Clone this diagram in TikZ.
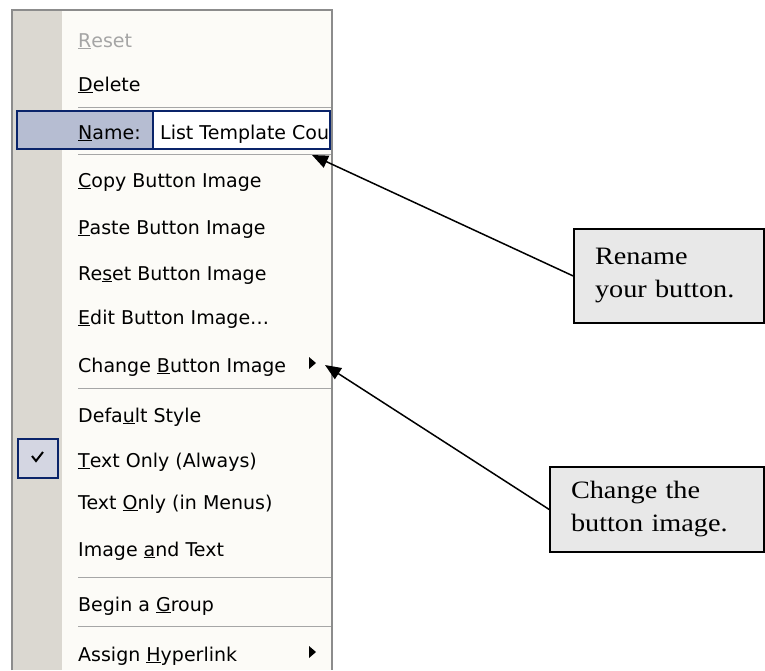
\documentclass[tikz,border=0pt]{standalone}
\usepackage{fontspec}
\setmainfont{Liberation Serif}[FakeStretch=1.13]
\newfontfamily\menufont{DejaVu Sans}
\usetikzlibrary{arrows.meta}

\definecolor{menubg}{RGB}{252,251,247}
\definecolor{stripgray}{RGB}{219,216,209}
\definecolor{framegray}{RGB}{140,140,140}
\definecolor{sepgray}{RGB}{166,166,166}
\definecolor{hlblue}{RGB}{182,189,210}
\definecolor{darkblue}{RGB}{10,36,106}
\definecolor{checkfill}{RGB}{212,214,226}
\definecolor{offgray}{RGB}{165,165,165}
\definecolor{notefill}{RGB}{232,232,232}

\newcommand{\acc}[1]{\underline{#1}}

\tikzset{
    item/.style={anchor=base west, inner sep=0pt, font=\menufont\fontsize{19}{23}\selectfont},
    sepline/.style={sepgray, line width=1pt},
    note/.style={draw, line width=1.5pt, fill=notefill, inner xsep=21pt, inner ysep=0pt,
        align=left, font=\fontsize{25}{33}\selectfont},
    callarrow/.style={line width=1.5pt, -{Triangle[length=16pt,width=13pt]}}
}

\begin{document}
\begin{tikzpicture}[x=1pt,y=-1pt]
        \useasboundingbox (0,0) rectangle (765,670);

        % menu frame
        \fill[menubg] (12,10) rectangle (332,670);
        \fill[stripgray] (13,11) rectangle (62,670);
        \draw[framegray, line width=1.5pt] (12,670) -- (12,10) -- (332,10) -- (332,670);

        % separators
        \draw[sepline] (78,107) -- (331,107);
        \draw[sepline] (78,154) -- (331,154);
        \draw[sepline] (78,388) -- (331,388);
        \draw[sepline] (78,577) -- (331,577);
        \draw[sepline] (78,626) -- (331,626);

        % name field
        \draw[darkblue, fill=hlblue, line width=1.2pt] (17,111) rectangle (330,149);
        \draw[darkblue, fill=white, line width=1.2pt] (153,111) rectangle (330,149);

        % check box
        \draw[darkblue, fill=checkfill, line width=1.2pt] (18,439) rectangle (58,478);
        \draw[line width=2pt] (32,456) -- (36,461) -- (43,452);

        % submenu marks
        \fill (309,357) -- (309,369) -- (316,363) -- cycle;
        \fill (309,646) -- (309,658) -- (316,652) -- cycle;

        \node[item, offgray] (reset) at (78,47) {\acc{R}eset};
        \node[item] (delete) at (78,91) {\acc{D}elete};
        \node[item] (name) at (78,139) {\acc{N}ame:};
        \node[item] (namefield) at (160,139) {List Template Cou};
        \node[item] (copyimg) at (78,187) {\acc{C}opy Button Image};
        \node[item] (pasteimg) at (78,234) {\acc{P}aste Button Image};
        \node[item] (resetimg) at (78,280) {Re\acc{s}et Button Image};
        \node[item] (editimg) at (78,324) {\acc{E}dit Button Image\ldots};
        \node[item] (changeimg) at (78,372) {Change \acc{B}utton Image};
        \node[item] (default) at (78,422) {Defa\acc{u}lt Style};
        \node[item] (textalways) at (78,467) {\acc{T}ext Only (Always)};
        \node[item] (textmenus) at (78,509) {Text \acc{O}nly (in Menus)};
        \node[item] (imgtext) at (78,556) {Image \acc{a}nd Text};
        \node[item] (group) at (78,611) {Begin a \acc{G}roup};
        \node[item] (hyperlink) at (78,661) {Assign \acc{H}yperlink};

        % callouts
        \node[note, text width=148pt, minimum height=94pt] (rename) at (669,276)
            {Rename\\your button.};
        \node[note, text width=172pt, minimum height=85pt] (changenote) at (657,509.5)
            {Change the\\button image.};

        \coordinate (nametip) at (312,155);
        \coordinate (changetip) at (325,365);
        \draw[callarrow] (rename.west) -- (nametip);
        \draw[callarrow] (changenote.west) -- (changetip);

    \end{tikzpicture}
\end{document}
